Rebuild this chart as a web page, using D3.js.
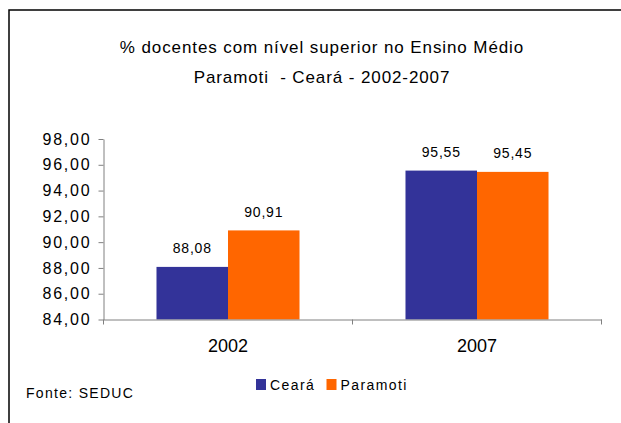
<!DOCTYPE html>
<html>
<head>
<meta charset="utf-8">
<script src="https://cdn.jsdelivr.net/npm/d3@7"></script>
<style>
  body { margin: 0; background: #fff; }
  text { font-family: "Liberation Sans", Arial, sans-serif; fill: #000; }
</style>
</head>
<body>
<script>
// data
var years = ["2002", "2007"];
var series = ["Ceará", "Paramoti"];
var ceara = [88.08, 95.55];
var paramoti = [90.91, 95.45];
var yTicks = [84, 86, 88, 90, 92, 94, 96, 98];
var colors = ["#333399", "#ff6600"];
var titleLines = ["% docentes com nível superior no Ensino Médio", "Paramoti  - Ceará - 2002-2007"];
var source = "Fonte: SEDUC";

// dimensions (plot area)
var width = 621;
var height = 423;
var plotLeft = 103.5, plotRight = 601.5, plotTop = 139, plotBottom = 319.5;

// comma decimal like the original
var locale = d3.formatLocale({ decimal: ",", thousands: ".", grouping: [3], currency: ["R$", ""] });
var fmt = locale.format(".2f");

var svg = d3.select("body")
  .append("svg")
  .attr("width", width)
  .attr("height", height);

// frame (only top and left edges are visible in the picture)
svg.append("path")
  .attr("d", "M9,430 L9,10 L630,10")
  .attr("fill", "none")
  .attr("stroke", "#000")
  .attr("stroke-width", 1.5);

// title
svg.selectAll(".title")
  .data(titleLines)
  .enter()
  .append("text")
  .attr("class", "title")
  .attr("x", 322)
  .attr("y", function(d, i) { return 53 + i * 30; })
  .attr("text-anchor", "middle")
  .attr("xml:space", "preserve")
  .style("white-space", "pre")
  .style("font-size", "17px")
  .style("letter-spacing", "0.9px")
  .text(function(d) { return d; });

// scales
var x0 = d3.scaleBand()
  .domain(years)
  .range([plotLeft, plotRight]);

var x1 = d3.scaleBand()
  .domain(series)
  .range([0, x0.bandwidth()])
  .paddingInner(0)
  .paddingOuter(0.741);

var y = d3.scaleLinear()
  .domain([84, 98])
  .range([plotBottom, plotTop]);

var rows = years.map(function(yr, i) {
  return { year: yr, values: [ceara[i], paramoti[i]] };
});

// bars
var groups = svg.selectAll(".grp")
  .data(rows)
  .enter()
  .append("g")
  .attr("class", "grp")
  .attr("transform", function(d) { return "translate(" + x0(d.year) + ",0)"; });

groups.selectAll("rect")
  .data(function(d) { return d.values.map(function(v, i) { return { s: series[i], v: v, c: colors[i] }; }); })
  .enter()
  .append("rect")
  .attr("x", function(d) { return x1(d.s); })
  .attr("y", function(d) { return y(d.v); })
  .attr("width", x1.bandwidth())
  .attr("height", function(d) { return plotBottom - y(d.v); })
  .attr("fill", function(d) { return d.c; });

// value labels
groups.selectAll(".lbl")
  .data(function(d) { return d.values.map(function(v, i) { return { s: series[i], v: v }; }); })
  .enter()
  .append("text")
  .attr("class", "lbl")
  .attr("x", function(d) { return x1(d.s) + x1.bandwidth() / 2; })
  .attr("y", function(d) { return y(d.v) - 13.5; })
  .attr("text-anchor", "middle")
  .style("font-size", "14px")
  .style("letter-spacing", "0.8px")
  .text(function(d) { return fmt(d.v); });

// y axis
var yAxis = d3.axisLeft(y)
  .tickValues(yTicks)
  .tickSize(5)
  .tickSizeOuter(0)
  .tickPadding(7)
  .tickFormat(fmt);

var gy = svg.append("g")
  .attr("transform", "translate(" + plotLeft + ",0)")
  .call(yAxis);
gy.select(".domain").attr("stroke", "#808080");
gy.selectAll(".tick line").attr("stroke", "#808080");
gy.selectAll(".tick text")
  .style("font-family", "Liberation Sans, Arial, sans-serif")
  .style("font-size", "16px")
  .style("letter-spacing", "1.8px")
  .attr("fill", "#000");

// x axis: labels centred, ticks on category edges
var xAxis = d3.axisBottom(x0)
  .tickSize(0)
  .tickSizeOuter(0)
  .tickPadding(20);

var gx = svg.append("g")
  .attr("transform", "translate(0," + plotBottom + ")")
  .call(xAxis);
gx.select(".domain").attr("stroke", "#808080");
gx.selectAll(".tick text")
  .style("font-family", "Liberation Sans, Arial, sans-serif")
  .style("font-size", "18px")
  .attr("fill", "#000");

var edges = years.map(function(d) { return x0(d); }).concat([plotRight]);
gx.selectAll(".edge")
  .data(edges)
  .enter()
  .append("line")
  .attr("class", "edge")
  .attr("x1", function(d) { return d; })
  .attr("x2", function(d) { return d; })
  .attr("y1", 0)
  .attr("y2", 5)
  .attr("stroke", "#808080");

// legend
var legendX = [256, 326.5];
var legend = svg.selectAll(".legend")
  .data(series)
  .enter()
  .append("g")
  .attr("class", "legend")
  .attr("transform", function(d, i) { return "translate(" + legendX[i] + ",379)"; });

legend.append("rect")
  .attr("width", 10)
  .attr("height", 11)
  .attr("fill", function(d, i) { return colors[i]; });

legend.append("text")
  .attr("x", 14)
  .attr("y", 10.5)
  .style("font-size", "14px")
  .style("letter-spacing", "1.4px")
  .text(function(d) { return d; });

// source
svg.append("text")
  .attr("x", 26)
  .attr("y", 397.5)
  .style("font-size", "14px")
  .style("letter-spacing", "1.3px")
  .text(source);
</script>
</body>
</html>
